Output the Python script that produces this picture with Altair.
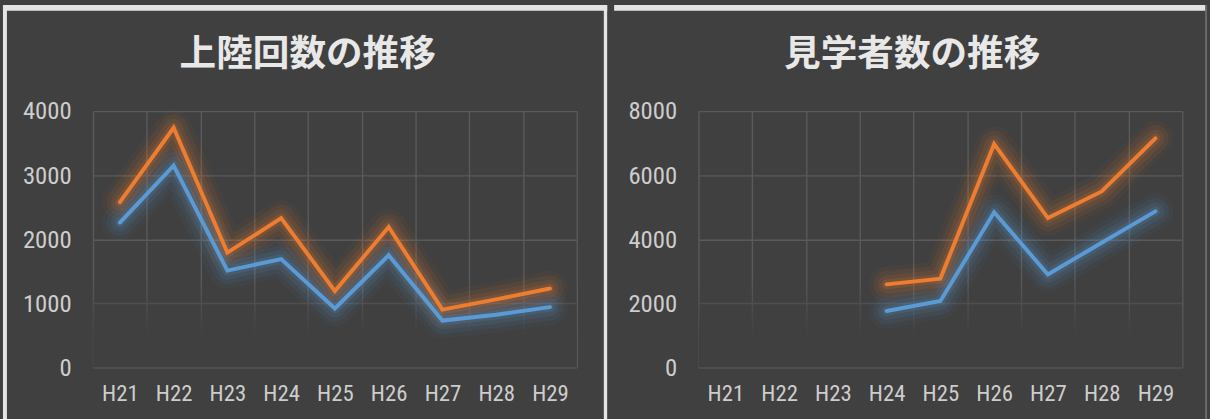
import altair as alt
import pandas as pd

# Fiscal years (Heisei era) shown on both panels
years = ["H21", "H22", "H23", "H24", "H25", "H26", "H27", "H28", "H29"]

# Landing counts
landing_orange = [2580, 3740, 1790, 2330, 1190, 2190, 900, 1060, 1230]
landing_blue = [2260, 3150, 1510, 1690, 920, 1750, 730, 820, 940]

# Visitor counts (recorded from H24 on)
visitor_years = ["H24", "H25", "H26", "H27", "H28", "H29"]
visitor_orange = [2590, 2770, 6970, 4660, 5490, 7150]
visitor_blue = [1760, 2070, 4840, 2900, 3890, 4870]

series_names = ["系列1", "系列2"]
series_colors = ["#ED7D31", "#5B9BD5"]

BG = "#404040"
GRID = "#5a5a5a"
LABEL = "#cdcdcd"
BORDER = "#e4e4e4"
LABEL_FONT = "Liberation Sans Narrow, Roboto Condensed, Arial Narrow, Roboto, sans-serif"
TITLE_FONT = "Noto Sans CJK JP"

W, H = 489, 259


def frame(cats, orange, blue):
    rows = []
    for c, v in zip(cats, orange):
        rows.append({"年度": c, "値": v, "系列": series_names[0]})
    for c, v in zip(cats, blue):
        rows.append({"年度": c, "値": v, "系列": series_names[1]})
    return pd.DataFrame(rows)


one = pd.DataFrame({"k": [0]})


def rule(x0, x1, y0, y1, sw, col=BORDER):
    return alt.Chart(one).mark_rule(color=col, strokeWidth=sw).encode(
        x=alt.value(x0), x2=alt.value(x1), y=alt.value(y0), y2=alt.value(y1)
    )


def panel(title, cats, orange, blue, ymax, step, left, right, title_x, edges):
    df = frame(cats, orange, blue)
    x = alt.X(
        "年度:N",
        sort=years,
        scale=alt.Scale(domain=years, paddingInner=0, paddingOuter=0),
        axis=alt.Axis(
            title=None, labelAngle=0, tickBand="extent", domain=False, ticks=False,
            labelPadding=16, labelFont=LABEL_FONT, labelFontSize=23, labelColor=LABEL,
            grid=True, gridColor=GRID, gridWidth=1.4,
        ),
    )
    y = alt.Y(
        "値:Q",
        scale=alt.Scale(domain=[0, ymax], nice=False),
        axis=alt.Axis(
            title=None, values=list(range(0, ymax + 1, step)), format="d",
            domain=False, ticks=False,
            labelPadding=22, labelFont=LABEL_FONT, labelFontSize=25, labelColor=LABEL,
            grid=True, gridColor=GRID, gridWidth=1.4, minExtent=73, maxExtent=73,
        ),
    )
    color = alt.Color(
        "系列:N", scale=alt.Scale(domain=series_names, range=series_colors), legend=None
    )

    # fade the lower part of the grid into the background
    fade = alt.Chart(one).mark_rect(
        color=alt.Gradient(
            gradient="linear",
            stops=[
                alt.GradientStop(color="rgba(64,64,64,0)", offset=0),
                alt.GradientStop(color=BG, offset=0.66),
                alt.GradientStop(color=BG, offset=1),
            ],
            x1=0, x2=0, y1=0, y2=1,
        )
    ).encode(x=alt.value(0), x2=alt.value(W), y=alt.value(168), y2=alt.value(H))

    # soft glow under each series, then the solid line on top
    base = alt.Chart(df).encode(x=x, y=y, color=color, detail="系列:N")
    glows = [
        base.mark_line(strokeWidth=w, opacity=o, strokeJoin="round", strokeCap="round")
        for w, o in [(36, 0.05), (27, 0.07), (18, 0.10), (10, 0.14)]
    ]
    line = base.mark_line(strokeWidth=4, strokeCap="round", strokeJoin="miter")

    heading = alt.Chart(one).mark_text(
        text=title, font=TITLE_FONT, fontSize=37, fontWeight="bold", color="#e8e8e8",
        align="center", baseline="middle",
    ).encode(x=alt.value(title_x), y=alt.value(-57))

    decor = [rule(left, right, -104.3, -104.3, 6)]
    for ex, ew, ec in edges:
        decor.append(rule(ex, ex, -107.3, 311.7, ew, ec))

    layers = [fade] + glows + [line, heading] + decor
    return alt.layer(*layers).properties(width=W, height=H)


left_panel = panel("上陸回数の推移", years, landing_orange, landing_blue, 4000, 1000,
                   -91, 519.7, 217, [(-89, 4, BORDER), (518, 3.4, BORDER)])
right_panel = panel("見学者数の推移", visitor_years, visitor_orange, visitor_blue, 8000, 2000,
                    -85.3, 514, 216, [(513, 2, "#6a6a6a")])

chart = alt.hconcat(left_panel, right_panel, spacing=0).properties(
    padding=0, background=BG
).configure_view(stroke=None)

chart.save("out.html", embed_options={"renderer": "svg", "actions": False})
